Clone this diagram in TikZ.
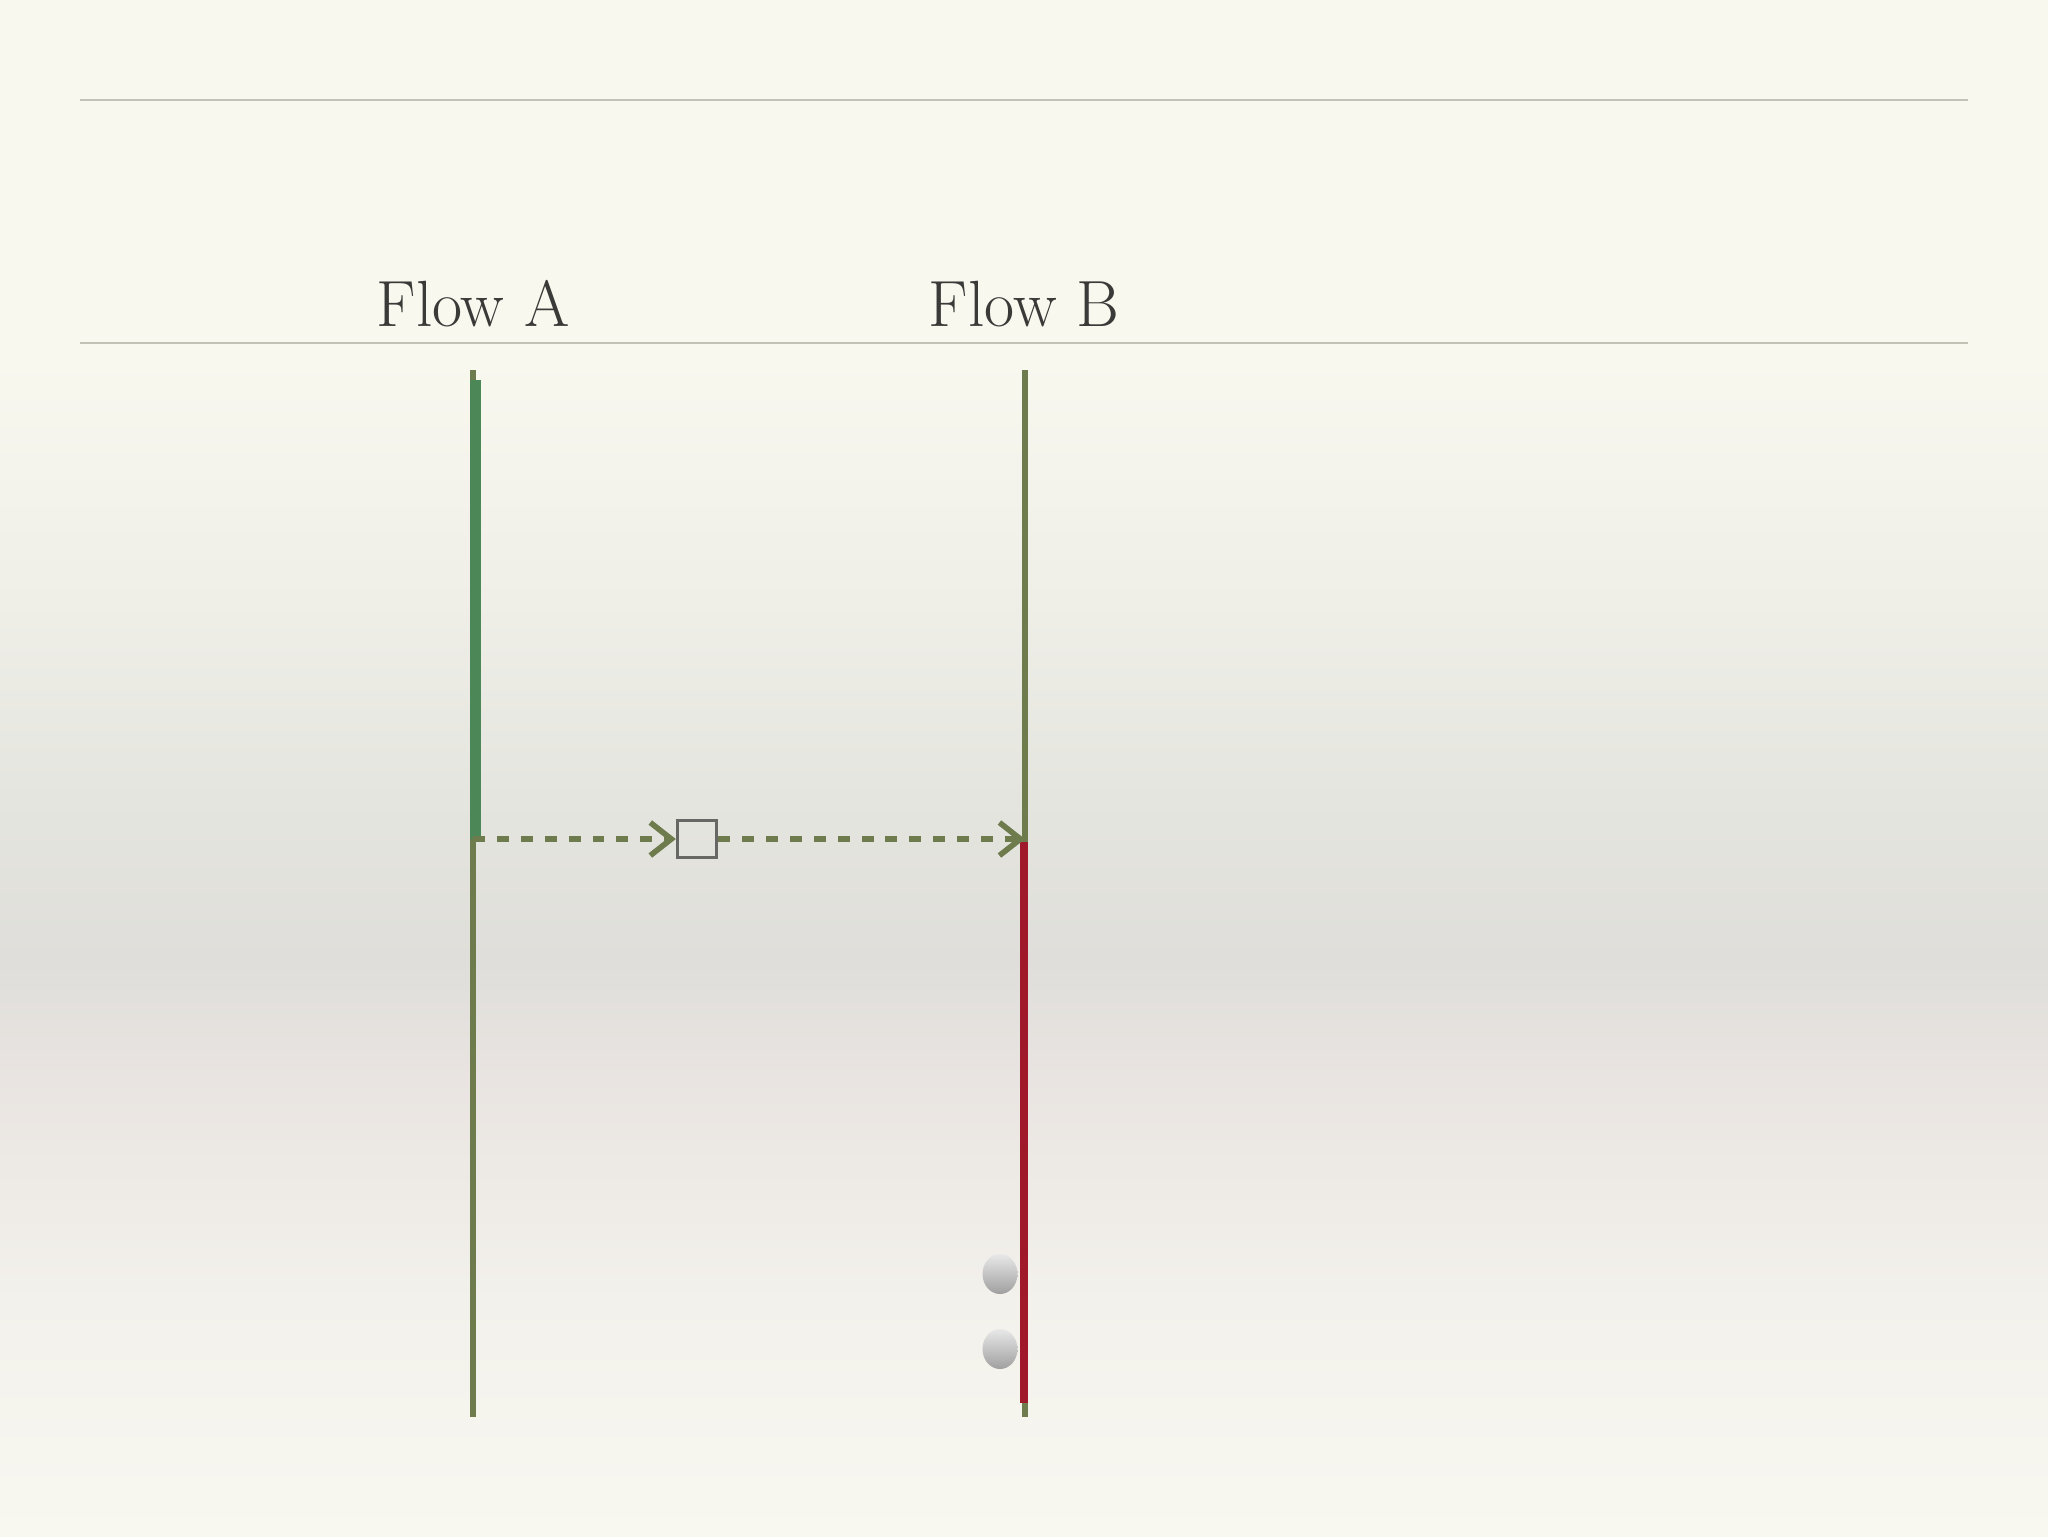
\documentclass[tikz,border=0pt]{standalone}
\usepackage{amsmath}
\usetikzlibrary{arrows.meta,positioning}

\definecolor{bgtop}{HTML}{F8F8EF}
\definecolor{bgmid}{HTML}{EFEFE8}
\definecolor{bggray}{HTML}{E5E5DF}
\definecolor{bgdark}{HTML}{DFDEDA}
\definecolor{bgpink}{HTML}{E9E4E1}
\definecolor{bglow}{HTML}{F3F1EB}
\definecolor{bgbot}{HTML}{F8F7F0}
\definecolor{rulegray}{HTML}{C2C2B6}
\definecolor{inkgray}{HTML}{3A3A38}
\definecolor{olive}{HTML}{6E7B4D}
\definecolor{leafgreen}{HTML}{4B8757}
\definecolor{darkred}{HTML}{A0192B}
\definecolor{boxgray}{HTML}{676765}

\tikzset{
  title/.style={text=inkgray, font=\fontsize{18.6}{22}\selectfont, inner sep=0pt},
  lifeline/.style={olive, line width=1.6pt},
  msgline/.style={olive, line width=1.8pt, dash pattern=on 3.4pt off 3.4pt,
    -{Straight Barb[length=2.1mm,width=3.3mm,line width=1.6pt]}},
  msgbox/.style={draw=boxgray, line width=0.95pt,
    minimum width=3.9mm, minimum height=3.7mm, inner sep=0pt},
}

\begin{document}
\begin{tikzpicture}[x=0.1mm,y=-0.1mm]
  \useasboundingbox (0,0) rectangle (2048,1536);
  % background
  \shade[top color=bgtop, bottom color=bgtop] (0,0) rectangle (2048,360);
  \shade[top color=bgtop, bottom color=bgmid] (0,359) rectangle (2048,600);
  \shade[top color=bgmid, bottom color=bggray] (0,599) rectangle (2048,800);
  \shade[top color=bggray, bottom color=bgdark] (0,799) rectangle (2048,960);
  \shade[top color=bgdark, bottom color=bgpink] (0,959) rectangle (2048,1080);
  \shade[top color=bgpink, bottom color=bglow] (0,1079) rectangle (2048,1300);
  \shade[top color=bglow, bottom color=bgbot] (0,1299) rectangle (2048,1536);

  % rules
  \draw[rulegray, line width=0.6pt] (80,100) -- (1968,100);
  \draw[rulegray, line width=0.6pt] (80,343) -- (1968,343);

  % titles
  \node[title, anchor=base] (flowa) at (473,326) {Flow A};
  \node[title, anchor=base] (flowb) at (1024,326) {Flow B};

  % lifelines
  \coordinate (atop) at (473,370);
  \coordinate (abot) at (473,1417);
  \coordinate (btop) at (1025,370);
  \coordinate (bbot) at (1025,1417);
  \coordinate (asend) at (473,839);
  \coordinate (brecv) at (1025,839);
  \draw[lifeline] (atop) -- (abot);
  \draw[lifeline] (btop) -- (bbot);

  % activations
  \draw[leafgreen, line width=2.9pt] (475.5,380) -- (475.5,839);
  \draw[darkred, line width=2.3pt] (1024,842) -- (1024,1403);

  % message
  \node[msgbox] (queue) at (697,839) {};
  \draw[msgline] (asend) -- (queue.west);
  \draw[msgline] (queue.east) -- (brecv);

  % markers
  \shade[top color=gray!18, bottom color=gray!75] (1000,1274) ellipse [x radius=17.5, y radius=20];
  \shade[top color=gray!18, bottom color=gray!75] (1000,1349) ellipse [x radius=17.5, y radius=20];
\end{tikzpicture}
\end{document}
